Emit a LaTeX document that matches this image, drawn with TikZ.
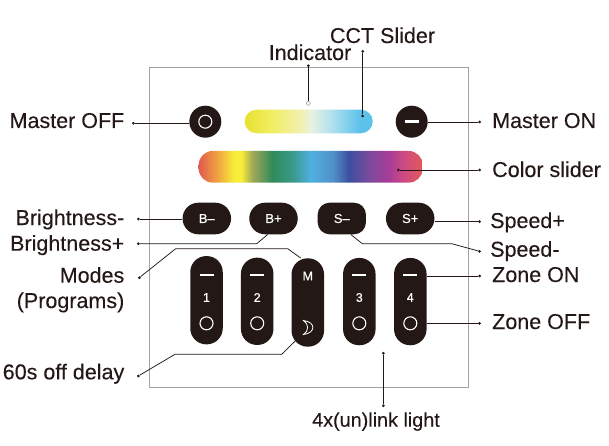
\documentclass[tikz,border=0pt]{standalone}
\usepackage{fontspec}
\setmainfont{Liberation Sans}
\newfontfamily\boldishA[FakeBold=0.12]{Liberation Sans}
\newfontfamily\boldishB[FakeBold=0.45]{Liberation Sans}
\usetikzlibrary{shapes.misc}
\definecolor{ink}{HTML}{231815}
\definecolor{framegray}{HTML}{A3A3A3}
\definecolor{cc0}{HTML}{E8E030}\definecolor{cc1}{HTML}{F0EE60}\definecolor{cc2}{HTML}{F2F0B0}
\definecolor{cc3}{HTML}{E8F2E0}\definecolor{cc4}{HTML}{B0E0EE}\definecolor{cc5}{HTML}{5CC2EA}
\definecolor{r0}{HTML}{E05A50}\definecolor{r1}{HTML}{F0A040}\definecolor{r2}{HTML}{F8EE38}
\definecolor{r3}{HTML}{A0A858}\definecolor{r4}{HTML}{2F8A5A}\definecolor{r5}{HTML}{3A9A8A}
\definecolor{r6}{HTML}{50B0E0}\definecolor{r7}{HTML}{5090C8}\definecolor{r8}{HTML}{3C50A0}
\definecolor{r9}{HTML}{7C4A9C}\definecolor{r10}{HTML}{A83C98}\definecolor{r11}{HTML}{D04C80}\definecolor{r12}{HTML}{E25858}
\pgfdeclarehorizontalshading{cctbar}{100bp}{
 color(0bp)=(cc0); color(25bp)=(cc0); color(35bp)=(cc1); color(47bp)=(cc2); color(51bp)=(cc3);
 color(59bp)=(cc4); color(70bp)=(cc5); color(75bp)=(cc5); color(100bp)=(cc5)}
\pgfdeclarehorizontalshading{rainbowbar}{100bp}{
 color(0bp)=(r0); color(25bp)=(r0); color(29bp)=(r1); color(33bp)=(r2); color(34.5bp)=(r2); color(37bp)=(r3);
 color(41.5bp)=(r4); color(46bp)=(r5); color(50bp)=(r6); color(55bp)=(r7); color(58.5bp)=(r8);
 color(63bp)=(r9); color(67.5bp)=(r10); color(71bp)=(r11); color(75bp)=(r12); color(100bp)=(r12)}
\tikzset{
 lbl/.style={font=\boldishA\fontsize{21.5}{24}\selectfont,text=ink,inner sep=0pt},
 lblsmall/.style={font=\boldishA\fontsize{19.8}{22}\selectfont,text=ink,inner sep=0pt},
 leader/.style={draw=ink,line width=0.75pt},
 enddot/.style={circle,fill=ink,inner sep=0pt,minimum size=3pt},
 roundbtn/.style={circle,fill=ink,inner sep=0pt,minimum size=32pt},
 pill/.style={rounded rectangle,fill=ink,text=white,inner sep=0pt,minimum width=48.5pt,minimum height=31.6pt,font=\boldishB\fontsize{13}{15}\selectfont},
 tallbtn/.style={rectangle,fill=ink,inner sep=0pt,minimum width=32.5pt,rounded corners=16pt},
 ringmark/.style={circle,draw=white,line width=1.1pt,inner sep=0pt,minimum size=13pt},
 dashmark/.style={rectangle,fill=white,inner sep=0pt,minimum width=14pt,minimum height=2.5pt},
 tallglyph/.style={text=white,inner sep=0pt,font=\boldishB\fontsize{12.5}{14}\selectfont}
}
\begin{document}
\begin{tikzpicture}[x=1pt,y=-1pt]
\useasboundingbox (0,0) rectangle (609,446);
\fill[white] (0,0) rectangle (609,446);
\node[draw=framegray,line width=1pt,inner sep=0pt,minimum width=319pt,minimum height=319pt] (frame) at (308.5,227.5) {};

% free ends
\node[enddot] (dOff) at (133.3,123.3) {};
\node[enddot] (dOn) at (479.5,122) {};
\node[enddot] (dInd) at (308.3,65.7) {};
\node[enddot] (dCct) at (362.7,51.3) {};
\node[enddot] (dColor) at (479.5,170) {};
\node[enddot] (dBm) at (138.3,219) {};
\node[enddot] (dBp) at (138.3,243.7) {};
\node[enddot] (dModes) at (139.3,277.7) {};
\node[enddot] (dDelay) at (138.3,376) {};
\node[enddot] (dSp) at (479.5,221.7) {};
\node[enddot] (dSm) at (479.5,251.3) {};
\node[enddot] (dZon) at (479.5,276) {};
\node[enddot] (dZoff) at (479.5,323.3) {};
\node[enddot] (dLinkA) at (383.3,353.3) {};
\node[enddot] (dLinkB) at (383.3,405.7) {};

% controls
\node[roundbtn] (off) at (205.3,121.7) {};
\node[ringmark] (offring) at (off.center) {};
\node[roundbtn] (on) at (411.7,121.7) {};
\node[dashmark,minimum height=3pt] (ondash) at (on.center) {};
\node[rectangle,inner sep=0pt,minimum width=128pt,minimum height=23.6pt,rounded corners=11.8pt,shade,shading=cctbar] (cct) at (308.7,121.5) {};
\node[rectangle,inner sep=0pt,minimum width=224pt,minimum height=31.7pt,rounded corners=14pt,shade,shading=rainbowbar] (rainbow) at (310.7,166.8) {};
\node[enddot] (dColorIn) at (398.3,170) {};
\node[enddot] (dCctIn) at (362.7,116) {};
\node[circle,draw=framegray,fill=white,line width=0.6pt,inner sep=0pt,minimum size=4pt] (ind) at (308.3,103.3) {};

\node[pill] (bm) at (206.8,218.5) {B–};
\node[pill] (bp) at (273.5,218.5) {B+};
\node[rectangle,fill=ink,text=white,inner sep=0pt,minimum width=48.3pt,minimum height=31.6pt,rounded corners=12pt,font=\boldishB\fontsize{13}{15}\selectfont] (sm) at (341.8,218.5) {S–};
\node[pill] (sp) at (410.2,218.5) {S+};

\node[tallbtn,minimum height=88.3pt] (z1) at (206.5,300.2) {};
\node[tallbtn,minimum height=87.3pt] (z2) at (257.2,301.3) {};
\node[tallbtn,minimum height=88.4pt] (mb) at (307.8,302.5) {};
\node[tallbtn,minimum height=87.3pt] (z3) at (359.3,301.6) {};
\node[tallbtn,minimum height=87.3pt] (z4) at (410.3,301.6) {};

\node[dashmark] (z1d) at (206.5,275) {};
\node[tallglyph] (z1n) at (206.5,297.5) {1};
\node[ringmark] (z1r) at (206.5,323.3) {};
\node[dashmark] (z2d) at (257.2,275) {};
\node[tallglyph] (z2n) at (257.2,297.5) {2};
\node[ringmark] (z2r) at (257.2,323.3) {};
\node[tallglyph] (mm) at (307.8,276) {M};
\draw[white,line width=0.8pt] (303.5,320.5) .. controls (316,322) and (316,333) .. (303.5,334.5) .. controls (309,331) and (309,324) .. cycle;
\node[dashmark] (z3d) at (359.3,275) {};
\node[tallglyph] (z3n) at (359.3,297.5) {3};
\node[ringmark] (z3r) at (359.3,323.3) {};
\node[dashmark] (z4d) at (410.3,275) {};
\node[tallglyph] (z4n) at (410.3,297.5) {4};
\node[ringmark] (z4r) at (410.3,323.3) {};

% leaders
\draw[leader] (dOff) -- (off.west |- dOff);
\draw[leader] (on.east |- dOn) -- (dOn);
\draw[leader] (dInd) -- (ind);
\draw[leader] (dCct) -- (dCctIn);
\draw[leader] (dColorIn) -- (dColor);
\draw[leader] (dBm) -- (bm.west |- dBm);
\draw[leader] (dBp) -- (256.7,243.7) -- (bp.-110);
\draw[leader] (dModes) -- (175.7,248.7) -- (287.7,248.7) -- ([xshift=-7pt]mb.north);
\draw[leader] (dDelay) -- (175,354.3) -- (281.7,354.3) -- ([xshift=4pt,yshift=6pt]mb.south west);
\draw[leader] (sp.east |- dSp) -- (dSp);
\draw[leader] ([xshift=9pt]sm.south) -- (362.3,243.7) -- (451.7,243.7) -- (dSm);
\draw[leader] (z4.east |- dZon) -- (dZon);
\draw[leader] (z4.east |- dZoff) -- (dZoff);
\draw[leader] (dLinkA) -- (dLinkB);

% labels
\node[lbl,anchor=base east] (tOff) at (124.5,128) {Master OFF};
\node[lbl,anchor=base east] (tBm) at (124.5,225) {Brightness-};
\node[lbl,anchor=base east] (tBp) at (124.5,250.7) {Brightness+};
\node[lbl,anchor=base east] (tMo) at (124.5,282.7) {Modes};
\node[lbl,anchor=base east] (tPr) at (124.5,308) {(Programs)};
\node[lbl,anchor=base east] (tDe) at (124.5,379.3) {60s off delay};
\node[lbl,anchor=base west] (tOn) at (492,128) {Master ON};
\node[lbl,anchor=base west] (tCo) at (492,177) {Color slider};
\node[lbl,anchor=base west] (tSp) at (490,228) {Speed+};
\node[lbl,anchor=base west] (tSm) at (490,256.7) {Speed-};
\node[lbl,anchor=base west] (tZon) at (492,282) {Zone ON};
\node[lbl,anchor=base west] (tZoff) at (492,329) {Zone OFF};
\node[lbl,anchor=base] (tInd) at (310,60) {Indicator};
\node[lbl,anchor=base] (tCct) at (382.5,43) {CCT Slider};
\node[lblsmall,anchor=base] (tLink) at (376,426.7) {4x(un)link light};
\end{tikzpicture}
\end{document}
